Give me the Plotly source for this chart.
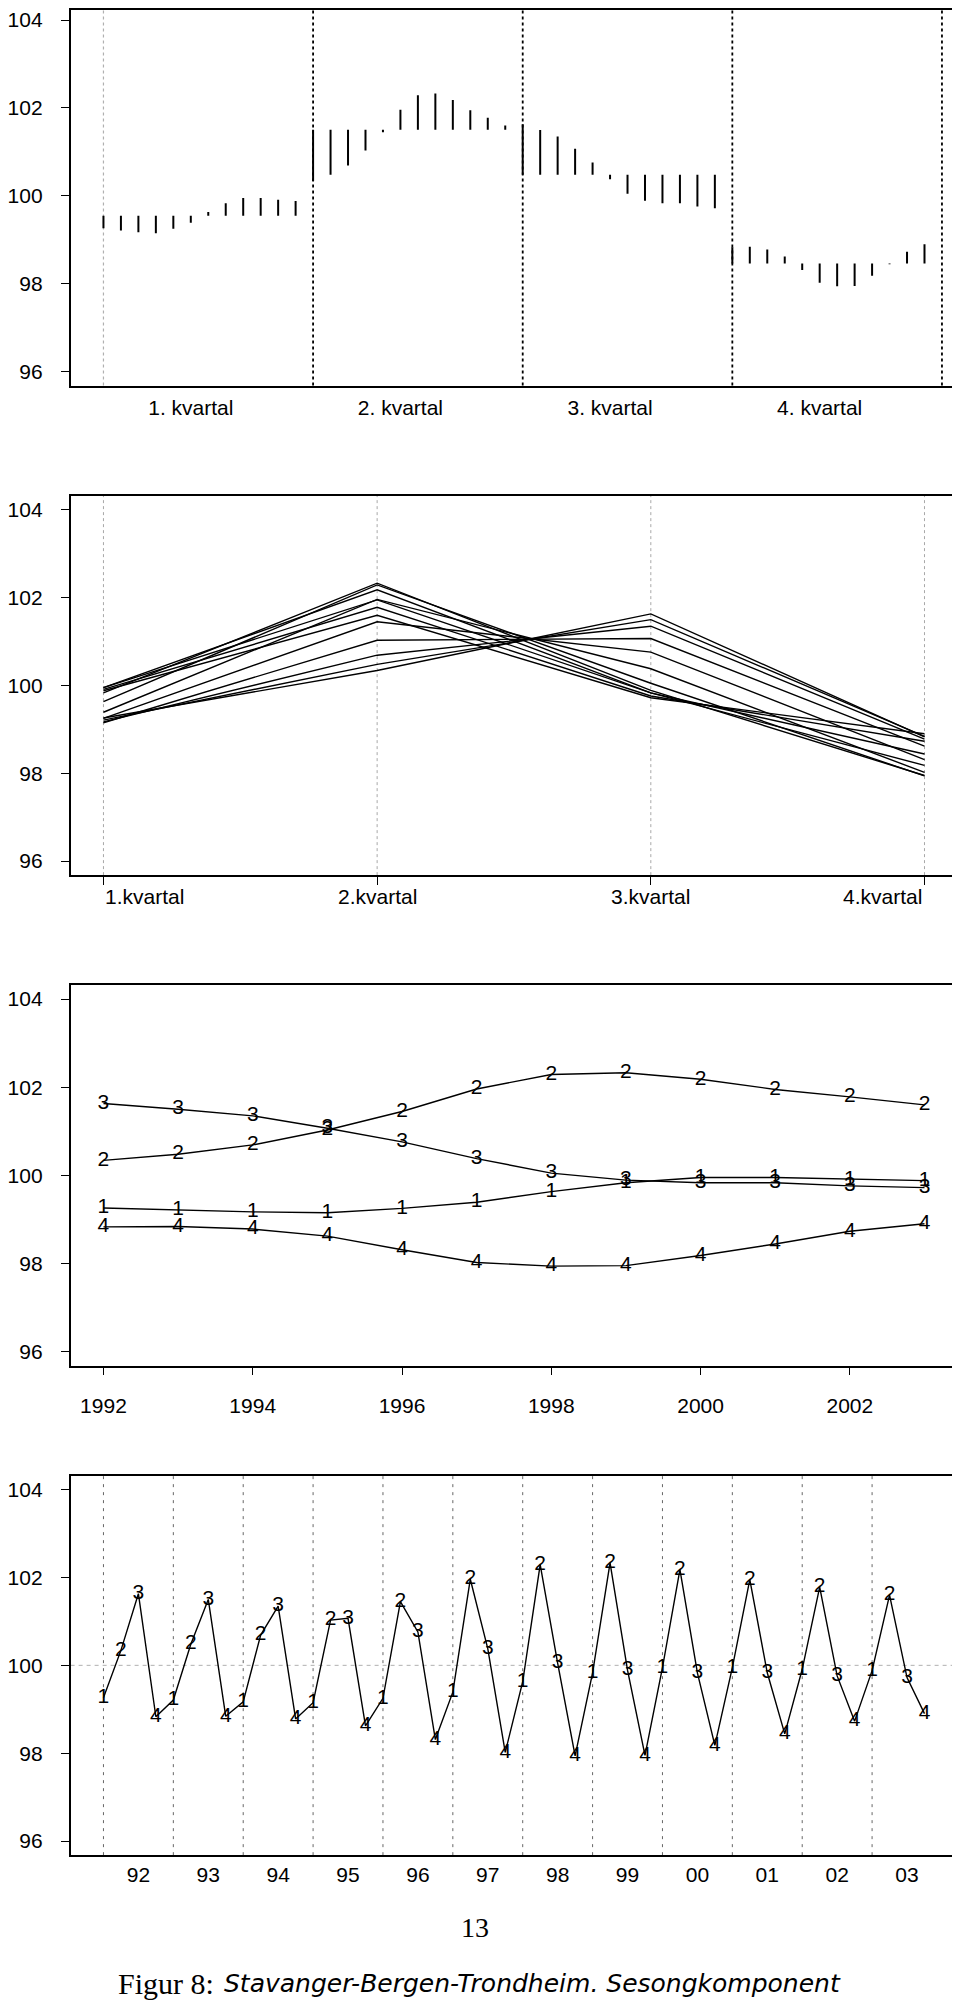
import plotly.graph_objects as go

# ---------------- data ----------------
years = [1992, 1993, 1994, 1995, 1996, 1997, 1998, 1999, 2000, 2001, 2002, 2003]
q1 = [99.26, 99.21, 99.17, 99.15, 99.25, 99.39, 99.63, 99.83, 99.95, 99.95, 99.91, 99.88]
q2 = [100.34, 100.48, 100.69, 101.03, 101.45, 101.96, 102.29, 102.33, 102.18, 101.95, 101.78, 101.60]
q3 = [101.63, 101.50, 101.35, 101.07, 100.76, 100.38, 100.05, 99.89, 99.83, 99.83, 99.76, 99.72]
q4 = [98.83, 98.84, 98.78, 98.62, 98.31, 98.02, 97.94, 97.95, 98.18, 98.44, 98.73, 98.90]
quarters = [q1, q2, q3, q4]
quarter_names = ["1", "2", "3", "4"]
labels_p1 = ["1. kvartal", "2. kvartal", "3. kvartal", "4. kvartal"]
labels_p2 = ["1.kvartal", "2.kvartal", "3.kvartal", "4.kvartal"]
year_ticks_p3 = [1992, 1994, 1996, 1998, 2000, 2002]
year_labels_p4 = ["92", "93", "94", "95", "96", "97", "98", "99", "00", "01", "02", "03"]
y_ticks = [96, 98, 100, 102, 104]

# ---------------- layout helpers ----------------
# The page body has the browser's default 8px margin, so the figure is
# sized to fit the 960x2004 window and page pixels are shifted by 8.
OFF = 8
W, H = 960 - OFF, 2004 - OFF
FONT = "Liberation Sans, Arial, Helvetica, sans-serif"
FS = 21
SERIF = "Liberation Serif, Times New Roman, serif"


def pxx(xpage):
    return min(1.0, max(0.0, (xpage - OFF) / W))


def pxy(ypage):
    return min(1.0, max(0.0, 1 - (ypage - OFF) / H))


def ydom(top_px, bot_px):
    return [pxy(bot_px), pxy(top_px)]


xdom = [pxx(58.3), pxx(957.3)]
YRANGE = [95.68, 104.32]
YRANGE_TOP = [95.68, 104.23]   # top panel: frame clipped at the page edge

fig = go.Figure()

# ---------- Panel 1: month-plot style segments ----------
n = len(years)
seg_x, seg_y = [], []
for qi, vals in enumerate(quarters):
    m = sum(vals) / len(vals)
    for j, v in enumerate(vals):
        idx = qi * n + j + 1
        seg_x += [idx, idx, None]
        seg_y += [m, v, None]
fig.add_trace(go.Scatter(x=seg_x, y=seg_y, mode="lines",
                         line=dict(color="black", width=2),
                         xaxis="x", yaxis="y", hoverinfo="skip", showlegend=False))
block_starts = [qi * n + 1 for qi in range(len(quarters) + 1)]
label_pos_p1 = [qi * n + 6 for qi in range(len(quarters))]

# ---------- Panel 2: one line per year across quarters ----------
qx = [1, 2, 3, 4]
p2x, p2y = [], []
for i in range(n):
    p2x += qx + [None]
    p2y += [q[i] for q in quarters] + [None]
fig.add_trace(go.Scatter(x=p2x, y=p2y, mode="lines",
                         line=dict(color="black", width=1.4),
                         xaxis="x2", yaxis="y2", hoverinfo="skip", showlegend=False))

# ---------- Panel 3: each quarter over years ----------
for qi, vals in enumerate(quarters):
    fig.add_trace(go.Scatter(x=years, y=vals, mode="lines+text",
                             text=[quarter_names[qi]] * n, textposition="middle center",
                             textfont=dict(family=FONT, size=FS, color="black"),
                             line=dict(color="black", width=1.4),
                             xaxis="x3", yaxis="y3", hoverinfo="skip", showlegend=False))

# ---------- Panel 4: the full seasonal series ----------
tx, ty, tt = [], [], []
for i, yr in enumerate(years):
    for qi, vals in enumerate(quarters):
        tx.append(yr + qi / 4)
        ty.append(vals[i])
        tt.append(quarter_names[qi])
fig.add_trace(go.Scatter(x=tx, y=ty, mode="lines+text", text=tt,
                         textposition="middle center",
                         textfont=dict(family=FONT, size=FS, color="black"),
                         line=dict(color="black", width=1.4),
                         xaxis="x4", yaxis="y4", hoverinfo="skip", showlegend=False))

# ---------------- axes ----------------
yaxis_common = dict(range=YRANGE, tickvals=y_ticks, ticks="outside", ticklen=8,
                    tickwidth=1.3, tickcolor="black", showgrid=False, zeroline=False,
                    showline=True, mirror=True, linecolor="black", linewidth=1.5,
                    tickfont=dict(family=FONT, size=FS, color="black"),
                    ticklabelstandoff=14, fixedrange=True)
xaxis_common = dict(showgrid=False, zeroline=False, showline=True, mirror=True,
                    linecolor="black", linewidth=1.5, domain=xdom,
                    tickfont=dict(family=FONT, size=FS, color="black"), fixedrange=True)

fig.update_layout(
    xaxis=dict(xaxis_common, anchor="y", range=[-0.88, 49.88],
               tickvals=label_pos_p1, ticktext=labels_p1, ticks="",
               ticklabelstandoff=2),
    yaxis=dict(yaxis_common, anchor="x", domain=ydom(8, 384), range=YRANGE_TOP),
    xaxis2=dict(xaxis_common, anchor="y2", range=[0.88, 4.12],
                tickvals=qx, ticktext=[""] * 4, ticks="outside", ticklen=8,
                tickwidth=1.3, tickcolor="black"),
    yaxis2=dict(yaxis_common, anchor="x2", domain=ydom(494.3, 874)),
    xaxis3=dict(xaxis_common, anchor="y3", range=[1991.56, 2003.44],
                tickvals=year_ticks_p3, ticks="outside", ticklen=8,
                tickwidth=1.3, tickcolor="black", ticklabelstandoff=12),
    yaxis3=dict(yaxis_common, anchor="x3", domain=ydom(984, 1365)),
    xaxis4=dict(xaxis_common, anchor="y4", range=[1991.53, 2004.22],
                tickvals=[yr + 0.5 for yr in years], ticktext=year_labels_p4,
                ticks="", ticklabelstandoff=0),
    yaxis4=dict(yaxis_common, anchor="x4", domain=ydom(1475, 1855)),
    width=W, height=H,
    margin=dict(l=0, r=0, t=0, b=0),
    paper_bgcolor="white", plot_bgcolor="white",
    showlegend=False,
)

# ---------------- reference lines ----------------
shapes = []
# panel 1
shapes.append(dict(type="line", xref="x", yref="y domain", x0=block_starts[0], x1=block_starts[0],
                   y0=0, y1=1, line=dict(color="#b0b0b0", width=1.2, dash="3px,3px"), layer="below"))
for b in block_starts[1:]:
    shapes.append(dict(type="line", xref="x", yref="y domain", x0=b, x1=b, y0=0, y1=1,
                       line=dict(color="black", width=1.8, dash="3px,3px")))
# panel 2
for v in qx:
    shapes.append(dict(type="line", xref="x2", yref="y2 domain", x0=v, x1=v, y0=0, y1=1,
                       line=dict(color="#a8a8a8", width=1, dash="3px,3px"), layer="below"))
# panel 4
for yr in years:
    shapes.append(dict(type="line", xref="x4", yref="y4 domain", x0=yr, x1=yr, y0=0, y1=1,
                       line=dict(color="#666666", width=1, dash="3px,5px"), layer="below"))
shapes.append(dict(type="line", xref="x4 domain", yref="y4", x0=0, x1=1, y0=100, y1=100,
                   line=dict(color="#b0b0b0", width=1, dash="4px,4px"), layer="below"))
fig.update_layout(shapes=shapes)

# ---------------- annotations ----------------
ann = []
anchors = ["left", "center", "center", "right"]
for v, lab, anc in zip(qx, labels_p2, anchors):
    ann.append(dict(x=v, xref="x2", y=pxy(895), yref="paper", text=lab, showarrow=False,
                    xanchor=anc, yanchor="middle",
                    font=dict(family=FONT, size=FS, color="black")))
ann.append(dict(x=pxx(468), xref="paper", y=pxy(1927), yref="paper", text="13",
                showarrow=False, xanchor="center", yanchor="middle",
                font=dict(family=SERIF, size=28, color="black")))
ann.append(dict(x=pxx(206), xref="paper", y=pxy(1983), yref="paper", text="Figur 8:",
                showarrow=False, xanchor="right", yanchor="middle",
                font=dict(family=SERIF, size=30, color="black")))
ann.append(dict(x=pxx(212), xref="paper", y=pxy(1983), yref="paper",
                text="<i>Stavanger-Bergen-Trondheim. Sesongkomponent</i>",
                showarrow=False, xanchor="left", yanchor="middle",
                font=dict(family="DejaVu Sans, sans-serif", size=25, color="black")))
fig.update_layout(annotations=ann)

fig.write_html("out.html")
